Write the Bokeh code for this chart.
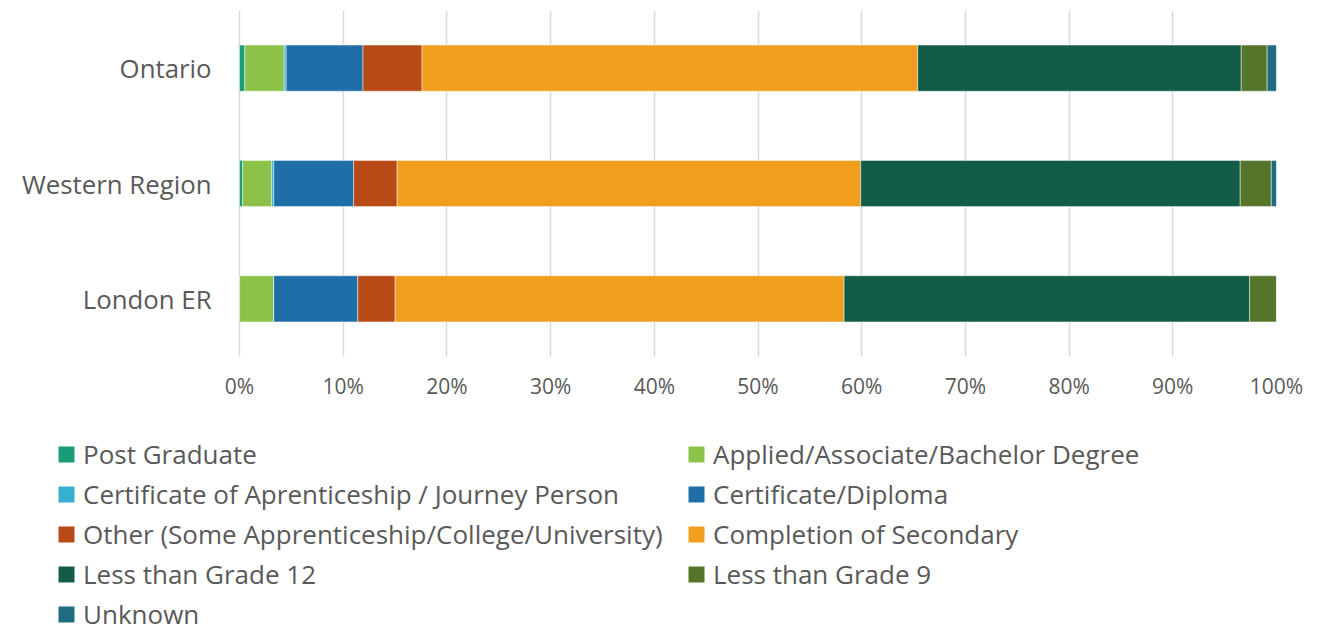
from bokeh.plotting import figure
from bokeh.layouts import column
from bokeh.models import ColumnDataSource, FactorRange, Range1d, FixedTicker, NumeralTickFormatter, Legend, LegendItem
from bokeh.core.properties import value
from bokeh.embed import file_html
from bokeh.resources import INLINE

regions = ["Ontario", "Western Region", "London ER"]
series_names = [
    "Post Graduate",
    "Applied/Associate/Bachelor Degree",
    "Certificate of Aprenticeship / Journey Person",
    "Certificate/Diploma",
    "Other (Some Apprenticeship/College/University)",
    "Completion of Secondary",
    "Less than Grade 12",
    "Less than Grade 9",
    "Unknown",
]
# percent values per region (Ontario, Western Region, London ER)
post_graduate = [0.5, 0.3, 0.0]
applied_degree = [3.8, 2.8, 3.3]
apprenticeship = [0.2, 0.2, 0.0]
certificate_diploma = [7.4, 7.7, 8.1]
other_some = [5.7, 4.2, 3.6]
completion_secondary = [47.8, 44.7, 43.3]
less_grade_12 = [31.2, 36.6, 39.1]
less_grade_9 = [2.5, 3.0, 2.6]
unknown = [0.9, 0.5, 0.0]
x_ticks = [0, 10, 20, 30, 40, 50, 60, 70, 80, 90, 100]

colors = ["#1B9B78", "#8CC24A", "#36AFD1", "#1F6EA8", "#B84A18",
          "#F09E1D", "#135C48", "#55752A", "#206B7F"]

series_values = [post_graduate, applied_degree, apprenticeship, certificate_diploma,
                 other_some, completion_secondary, less_grade_12, less_grade_9, unknown]
keys = ["s%d" % i for i in range(len(series_names))]
data = {"region": regions}
for k, vals in zip(keys, series_values):
    data[k] = [v / 100.0 for v in vals]
source = ColumnDataSource(data)

font = "Open Sans"
text_color = "#595959"

W = 1329
LEFT = 239          # pixel position of 0%
PLOT_W = 1036.7     # pixels from 0% to 100%
p = figure(width=W, height=434, output_backend="svg", toolbar_location=None,
           y_range=FactorRange(factors=list(reversed(regions))),
           x_range=Range1d(-LEFT / PLOT_W, 1), y_axis_location=None,
           min_border_left=0, min_border_right=53, min_border_top=10, min_border_bottom=78)
p.outline_line_color = None

renderers = p.hbar_stack(keys, y="region", height=0.4, color=colors, source=source,
                         line_color="white", line_width=0.75, line_alpha=0.6)

# category labels (left of 0%)
p.text(x=0, y="region", text="region", source=source, x_offset=-28,
       text_align="right", text_baseline="middle", text_color=text_color,
       text_font=value(font), text_font_size="25.8px")

p.xaxis.ticker = FixedTicker(ticks=[t / 100.0 for t in x_ticks])
p.xaxis.formatter = NumeralTickFormatter(format="0%")
ax = p.xaxis[0]
ax.axis_line_color = None
ax.major_tick_line_color = None
ax.minor_tick_line_color = None
ax.major_label_text_color = text_color
ax.major_label_text_font = font
ax.major_label_text_font_size = "21px"
ax.major_label_standoff = 9

p.xgrid.grid_line_color = "#D9D9D9"
p.xgrid.grid_line_width = 1.5
p.xgrid.ticker = FixedTicker(ticks=[t / 100.0 for t in x_ticks])
p.ygrid.grid_line_color = None

# legend panel (separate figure below the chart)
lg = figure(width=W, height=192, output_backend="svg", toolbar_location=None,
            x_axis_location=None, y_axis_location=None,
            min_border_left=0, min_border_right=53, min_border_top=0, min_border_bottom=0,
            x_range=Range1d(0, 1), y_range=FactorRange(factors=list(reversed(regions))))
lg.outline_line_color = None
lg.grid.visible = False
lg_renderers = lg.hbar_stack(keys, y="region", height=0.4, color=colors, source=source,
                             line_color=None, visible=False)


def make_legend(idx, loc):
    items = [LegendItem(label=series_names[i], renderers=[lg_renderers[i]]) for i in idx]
    return Legend(items=items, orientation="vertical", location=loc,
                  label_text_font=font, label_text_font_size="26px", label_text_color=text_color,
                  glyph_width=20, glyph_height=20, label_height=40, spacing=0,
                  label_standoff=7, border_line_alpha=0, background_fill_alpha=0,
                  padding=0, margin=0)


lg.add_layout(make_legend([0, 2, 4, 6, 8], (56, -8)), "center")
lg.add_layout(make_legend([1, 3, 5, 7], (686, 32)), "center")

layout = column(p, lg, spacing=0)
open("out.html", "w").write(file_html(layout, INLINE))
